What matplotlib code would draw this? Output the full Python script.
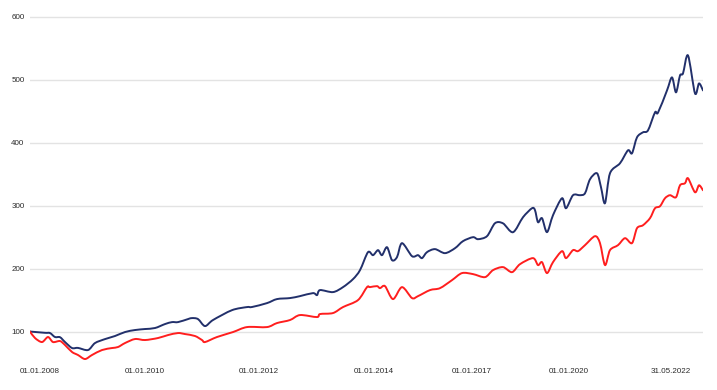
import matplotlib
matplotlib.use("Agg")
import matplotlib.pyplot as plt
from matplotlib.path import Path
from matplotlib.patches import PathPatch

# observation index (time runs left to right, axis is not evenly spaced in dates)
navy_obs = [0, 15, 20, 25, 30, 35, 42, 48, 58, 65, 75, 85, 95, 105, 115, 125, 135, 142, 148,
            158, 162, 168, 175, 183, 202, 217, 222, 237, 247, 260, 270, 283, 287, 290, 303, 313,
            323, 330, 338, 343, 348, 352, 357, 362, 367, 372, 382, 388, 392, 397, 405, 415, 425,
            433, 443, 448, 457, 465, 473, 483, 493, 502, 505, 508, 512, 517, 523, 532, 536, 543,
            550, 555, 560, 567, 571, 575, 580, 590, 598, 602, 607, 613, 618, 625, 628, 637, 642,
            646, 650, 653, 658, 665, 669, 673]
navy_vals = [100, 98, 97.6, 91.3, 91, 83.3, 73.8, 74, 70.6, 81.7, 88, 92.9, 99.2, 102.4, 104,
             105.6, 111.9, 115, 115, 119.8, 121.4, 119.8, 108.7, 118.3, 134, 138.9, 139, 145.2,
             151.6, 153.2, 156.3, 161.1, 157.9, 165.9, 162.7, 170.6, 183.3, 197.6, 226.2, 221.4,
             229.4, 221.4, 234.1, 213.5, 218.3, 240.5, 219.8, 221.4, 216.7, 226.2, 231, 224.6,
             232.5, 243.7, 250, 246.8, 251.6, 272.2, 272, 257.9, 281.7, 296, 292.9, 273.8, 280.2,
             258, 284.9, 311.9, 296, 316.7, 316.7, 319.8, 342, 351.6, 329.4, 304, 351.6, 367.5,
             388.1, 383.3, 408.7, 416.7, 419.8, 448.4, 448, 483.3, 504, 480.2, 507.1, 510.3,
             538.9, 478.6, 494.4, 483.3]

red_obs = [0, 5, 12, 18, 23, 30, 35, 42, 48, 55, 62, 72, 82, 88, 95, 105, 115, 128, 138, 148,
           155, 165, 172, 175, 187, 203, 217, 237, 247, 260, 270, 287, 290, 303, 313, 328, 337,
           340, 347, 350, 355, 363, 372, 382, 388, 400, 410, 422, 432, 443, 455, 463, 473, 482,
           490, 503, 508, 512, 517, 523, 532, 536, 543, 548, 555, 565, 570, 575, 580, 588, 595,
           602, 607, 613, 620, 625, 630, 635, 640, 646, 650, 655, 658, 665, 669, 673]
red_vals = [100, 89.7, 83.3, 91.3, 83.3, 84.9, 78.6, 67.5, 62.7, 56.3, 62.7, 70.6, 73.8, 75.4,
            81.7, 88.1, 86.5, 89.7, 94.4, 97.6, 96, 92.9, 86.5, 83.3, 91.3, 99.2, 107.1, 107.1,
            113.5, 118.3, 126.2, 123, 127.8, 129.4, 138.9, 150, 170.6, 170.6, 172.2, 169, 172.2,
            151.6, 170.6, 153.2, 156.3, 165.9, 169, 181.7, 192.9, 191.3, 186.5, 197.6, 202.4,
            194.4, 207.1, 216.7, 205.6, 210.3, 192.9, 210.3, 227.8, 216.7, 229.4, 227.8, 237.3,
            251.6, 240.5, 205.6, 229.4, 237.3, 248.4, 240.5, 264.3, 269, 280.2, 296, 299.2,
            311.9, 316.7, 313.5, 332.5, 335.7, 343.7, 321.4, 332.5, 324.6]

tick_pos = [10, 115, 229, 344, 442, 539, 641]
tick_labels = ["01.01.2008", "01.01.2010", "01.01.2012", "01.01.2014",
               "01.01.2017", "01.01.2020", "31.05.2022"]
y_ticks = [100, 200, 300, 400, 500, 600]


def smooth_path(xs, ys, k=0.3):
    # bezier through the points, like the spline series in the original chart
    verts = [(xs[0], ys[0])]
    codes = [Path.MOVETO]
    n = len(xs)
    for i in range(n - 1):
        x0, y0 = xs[max(i - 1, 0)], ys[max(i - 1, 0)]
        x1, y1 = xs[i], ys[i]
        x2, y2 = xs[i + 1], ys[i + 1]
        x3, y3 = xs[min(i + 2, n - 1)], ys[min(i + 2, n - 1)]
        c1 = (x1 + (x2 - x0) * k / 2, y1 + (y2 - y0) * k / 2)
        c2 = (x2 - (x3 - x1) * k / 2, y2 - (y3 - y1) * k / 2)
        verts += [c1, c2, (x2, y2)]
        codes += [Path.CURVE4] * 3
    return Path(verts, codes)


plt.rcParams["font.family"] = ["Liberation Sans", "DejaVu Sans"]

fig = plt.figure(figsize=(7.17, 3.9), dpi=100)
ax = fig.add_axes([30 / 717, 1 - 363 / 390, 673 / 717, (363 - 10.7) / 390])

for xs, ys, col in [(navy_obs, navy_vals, "#22306b"), (red_obs, red_vals, "#ff1e1e")]:
    ax.add_patch(PathPatch(smooth_path(xs, ys), fill=False, edgecolor=col, lw=1.4,
                           joinstyle="round", capstyle="round", zorder=3))

ax.set_xlim(0, 673)
ax.set_ylim(50, 610)
ax.set_yticks(y_ticks)
ax.set_xticks(tick_pos)
ax.set_xticklabels(tick_labels)
ax.grid(axis="y", color="#e3e3e3", lw=1)
ax.set_axisbelow(True)
for s in ax.spines.values():
    s.set_visible(False)
ax.tick_params(axis="both", length=0, labelsize=5.8, colors="#2a2a2a")
ax.tick_params(axis="y", pad=4)
ax.tick_params(axis="x", pad=3.5)

fig.savefig("out.png", dpi=100)
plt.close()
